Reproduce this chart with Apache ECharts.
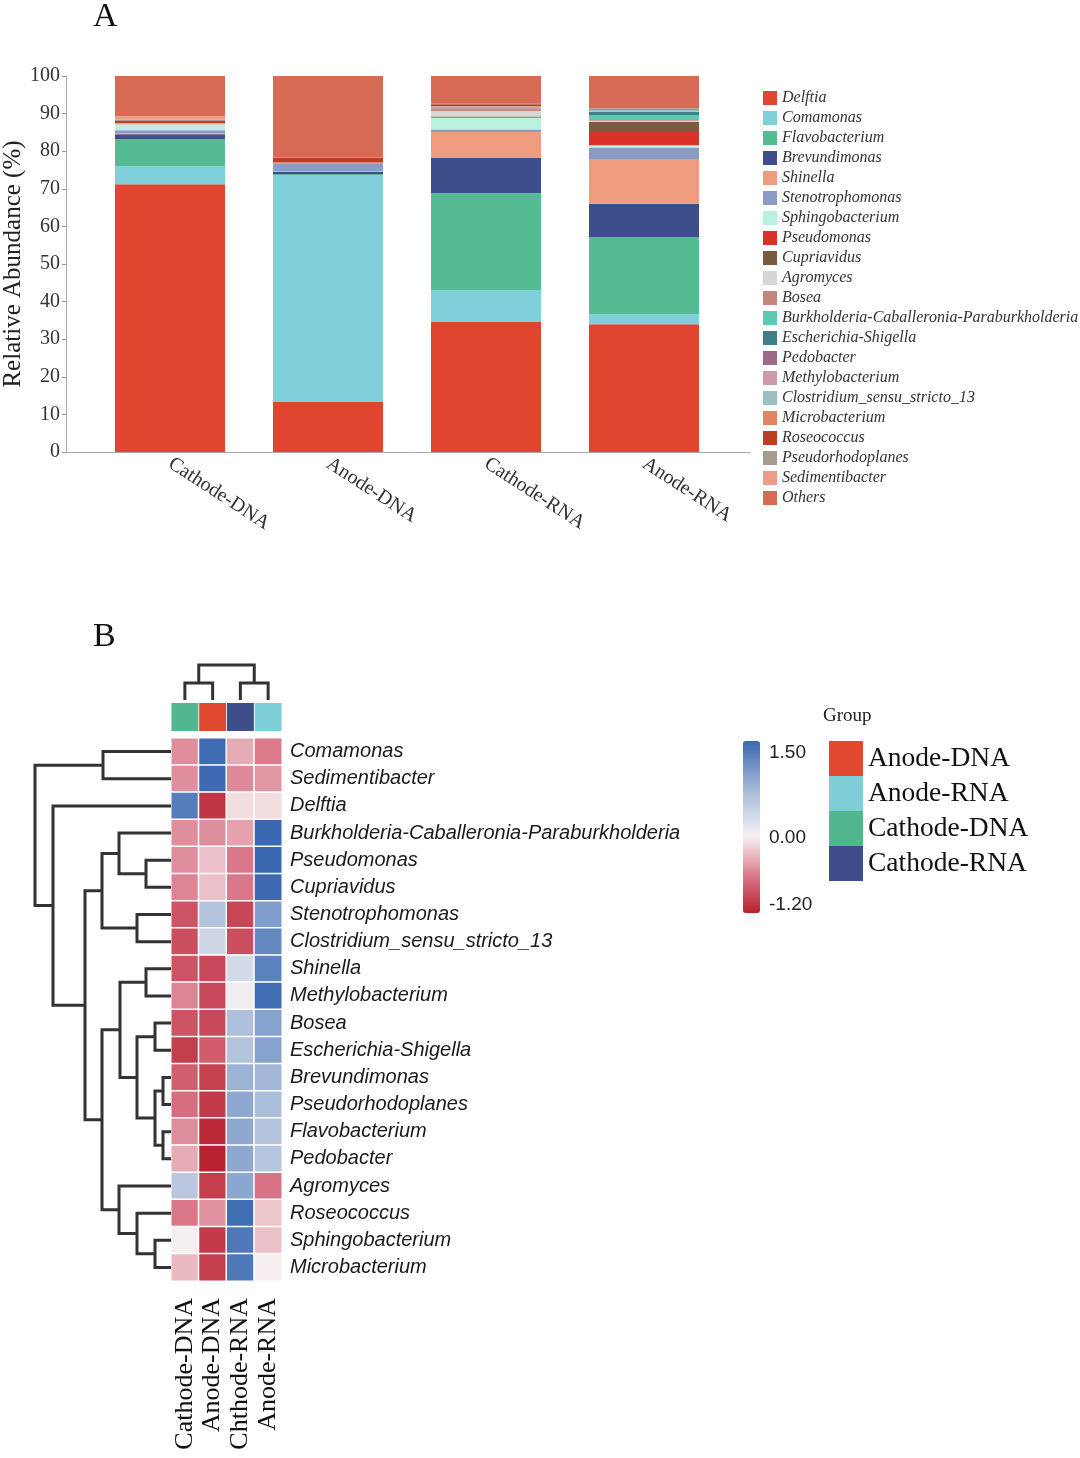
<!DOCTYPE html>
<html><head><meta charset="utf-8">
<script src="https://cdn.jsdelivr.net/npm/echarts@6/dist/echarts.min.js"></script>
<style>html,body{margin:0;padding:0;background:#fff}#c{width:1080px;height:1458px}</style>
</head><body><div id="c"></div>
<script>
// ---------- Panel A data ----------
const samples = ['Cathode-DNA', 'Anode-DNA', 'Cathode-RNA', 'Anode-RNA'];
const species = ['Delftia', 'Comamonas', 'Flavobacterium', 'Brevundimonas', 'Shinella',
  'Stenotrophomonas', 'Sphingobacterium', 'Pseudomonas', 'Cupriavidus', 'Agromyces', 'Bosea',
  'Burkholderia-Caballeronia-Paraburkholderia', 'Escherichia-Shigella', 'Pedobacter',
  'Methylobacterium', 'Clostridium_sensu_stricto_13', 'Microbacterium', 'Roseococcus',
  'Pseudorhodoplanes', 'Sedimentibacter', 'Others'];
const speciesColors = ['#e0462f', '#7fd0da', '#55bb92', '#3d4f8a', '#ee9b7e', '#8c9ac6', '#b9f0df',
  '#d93027', '#7d5a3f', '#d6d6d6', '#c3877f', '#5cc9b3', '#3f7f88', '#9b6a8a', '#cc9aa8', '#9cbfc6',
  '#e08466', '#bb3e25', '#a79b8f', '#ec9c88', '#d76b56'];
const valsCathodeDNA = [71.2, 4.8, 7.2, 1.3, 0.3, 0.8, 1.4, 0, 0, 0.2, 0.1, 0, 0, 0, 0, 0.1, 0.1, 0.5, 0.4, 0.9, 10.7];
const valsAnodeDNA   = [13.3, 60.4, 0.2, 0.6, 0.1, 2.1, 0.1, 0.1, 0, 0.1, 0, 0, 0, 0, 0, 0, 0, 1.3, 0.1, 0, 21.6];
const valsCathodeRNA = [34.6, 8.5, 25.8, 9.3, 6.9, 0.7, 3.1, 0.1, 0.2, 1.5, 0.3, 0.1, 0.2, 0.1, 0.1, 0.3, 0.2, 0.5, 0.3, 0, 7.2];
const valsAnodeRNA   = [34.0, 2.7, 20.5, 8.8, 11.7, 3.3, 0.6, 3.5, 2.7, 0.3, 0.2, 1.3, 0.8, 0.1, 0.1, 0.4, 0.1, 0.1, 0.2, 0, 8.6];

// ---------- Panel B data ----------
const heatRows = ['Comamonas', 'Sedimentibacter', 'Delftia', 'Burkholderia-Caballeronia-Paraburkholderia',
  'Pseudomonas', 'Cupriavidus', 'Stenotrophomonas', 'Clostridium_sensu_stricto_13', 'Shinella',
  'Methylobacterium', 'Bosea', 'Escherichia-Shigella', 'Brevundimonas', 'Pseudorhodoplanes',
  'Flavobacterium', 'Pedobacter', 'Agromyces', 'Roseococcus', 'Sphingobacterium', 'Microbacterium'];
const heatCols = ['Cathode-DNA', 'Anode-DNA', 'Chthode-RNA', 'Anode-RNA'];
const headerGroups = ['Cathode-DNA', 'Anode-DNA', 'Cathode-RNA', 'Anode-RNA'];
const zCathodeDNA = [-0.5, -0.5, 1.3, -0.5, -0.5, -0.55, -0.85, -0.88, -0.85, -0.55, -0.85, -1.0, -0.78, -0.68, -0.5, -0.35, 0.55, -0.62, 0.0, -0.28];
const zAnodeDNA   = [1.47, 1.48, -1.05, -0.5, -0.25, -0.25, 0.6, 0.35, -0.92, -0.92, -0.92, -0.8, -0.98, -1.02, -1.15, -1.18, -1.0, -0.48, -1.02, -1.0];
const zCathodeRNA = [-0.35, -0.52, -0.1, -0.4, -0.62, -0.62, -0.95, -0.88, 0.3, 0.05, 0.65, 0.6, 0.8, 0.9, 0.9, 0.9, 0.92, 1.45, 1.35, 1.35];
const zAnodeRNA   = [-0.6, -0.46, -0.1, 1.5, 1.5, 1.48, 1.0, 1.2, 1.25, 1.45, 0.95, 0.95, 0.75, 0.68, 0.6, 0.58, -0.65, -0.22, -0.25, -0.02];
const groupNames = ['Anode-DNA', 'Anode-RNA', 'Cathode-DNA', 'Cathode-RNA'];
const groupColors = ['#e0482f', '#7fcfd9', '#52b68e', '#3f4d8a'];
// dendrograms: [mergeHeight, left, right]; leaves are row / column indices
const rowTree = [136,
  [68, 0, 1],
  [118, 2,
    [86,
      [69, [52, 3, [25, 4, 5]], [34, 6, 7]],
      [69,
        [51, [25, 8, 9], [34, [16, 10, 11], [16, [8, 12, 13], [8, 14, 15]]]],
        [52, 16, [34, 17, [16, 18, 19]]]]]]];
const colTree = [35, [17, 0, 1], [17, 2, 3]];
const colorMin = -1.2, colorMax = 1.5;
const colorTicks = [-1.2, 0, 1.5];

// ---------- helpers ----------
const SERIF = '"Liberation Serif", "Times New Roman", serif';
const SANS = '"Liberation Sans", Arial, sans-serif';
const stops = [[-1.2, [184, 32, 46]], [-0.6, [219, 122, 140]], [0, [246, 242, 242]], [0.75, [163, 184, 216]], [1.5, [58, 104, 177]]];
function colorAt(v) {
  for (let i = 0; i < stops.length - 1; i++) {
    const [a, ca] = stops[i], [b, cb] = stops[i + 1];
    if (v <= b || i === stops.length - 2) {
      const t = Math.max(0, Math.min(1, (v - a) / (b - a)));
      const c = ca.map((x, k) => Math.round(x + (cb[k] - x) * t));
      return 'rgb(' + c.join(',') + ')';
    }
  }
}
const palette = [];
for (let i = 0; i <= 60; i++) palette.push(colorAt(colorMin + (colorMax - colorMin) * i / 60));

function walk(node, out) {
  if (typeof node === 'number') return { p: node, h: 0 };
  const [h, a, b] = node;
  const L = walk(a, out), R = walk(b, out);
  out.push([L.h, L.p, h, R.p, R.h]);
  return { p: (L.p + R.p) / 2, h: h };
}
const rowLinks = []; walk(rowTree, rowLinks);
const colLinks = []; walk(colTree, colLinks);

const sampleVals = [valsCathodeDNA, valsAnodeDNA, valsCathodeRNA, valsAnodeRNA];
const zCols = [zCathodeDNA, zAnodeDNA, zCathodeRNA, zAnodeRNA];
const heatData = [];
zCols.forEach((col, c) => col.forEach((v, r) => heatData.push([c, r, v])));

const series = [];
species.forEach((sp, i) => {
  series.push({
    name: sp, type: 'bar', stack: 'abund', xAxisIndex: 0, yAxisIndex: 0, barWidth: 110,
    itemStyle: { color: speciesColors[i] },
    data: sampleVals.map(s => s[i])
  });
});
const heatIdx = series.length;
series.push({
  type: 'heatmap', xAxisIndex: 1, yAxisIndex: 1, data: heatData,
  itemStyle: { borderColor: '#fff', borderWidth: 1.5 }
});
const lineStyle = { stroke: '#333', lineWidth: 3, fill: null };
series.push({
  type: 'custom', xAxisIndex: 2, yAxisIndex: 2, data: rowLinks, clip: false,
  renderItem: (p, api) => {
    const hL = api.value(0), yL = api.value(1), h = api.value(2), yR = api.value(3), hR = api.value(4);
    return { type: 'polyline', shape: { points: [api.coord([hL, yL]), api.coord([h, yL]), api.coord([h, yR]), api.coord([hR, yR])] }, style: lineStyle };
  }
});
series.push({
  type: 'custom', xAxisIndex: 3, yAxisIndex: 3, data: colLinks, clip: false,
  renderItem: (p, api) => {
    const hL = api.value(0), xL = api.value(1), h = api.value(2), xR = api.value(3), hR = api.value(4);
    return { type: 'polyline', shape: { points: [api.coord([xL, hL]), api.coord([xL, h]), api.coord([xR, h]), api.coord([xR, hR])] }, style: lineStyle };
  }
});
groupNames.forEach((g, i) => {
  series.push({
    name: g, type: 'bar', stack: 'hdr', xAxisIndex: 4, yAxisIndex: 4, barWidth: '97%',
    itemStyle: { color: groupColors[i] },
    data: headerGroups.map(h => h === g ? 1 : '-')
  });
});
series.push({ type: 'scatter', xAxisIndex: 5, yAxisIndex: 5, data: [] });

const hidden = { show: false };
const G = { outerBoundsMode: 'none', containLabel: false };
const option = {
  animation: false,
  backgroundColor: '#fff',
  title: [
    { text: 'A', left: 93, top: 0, padding: 0, textStyle: { fontFamily: SERIF, fontSize: 34, fontWeight: 'normal', color: '#111' } },
    { text: 'B', left: 93, top: 620, padding: 0, textStyle: { fontFamily: SERIF, fontSize: 34, fontWeight: 'normal', color: '#111' } },
    { text: 'Group', left: 823, top: 707, padding: 0, textStyle: { fontFamily: SERIF, fontSize: 19, fontWeight: 'normal', color: '#222' } }
  ],
  legend: [
    { data: species, orient: 'vertical', left: 763, top: 90, padding: 0, icon: 'rect',
      itemWidth: 14, itemHeight: 14, itemGap: 4, selectedMode: false,
      textStyle: { fontFamily: SERIF, fontStyle: 'italic', fontSize: 16, lineHeight: 14, color: '#333' } },
    { data: groupNames, orient: 'vertical', left: 829, top: 741, padding: 0, icon: 'rect',
      itemWidth: 34, itemHeight: 35, itemGap: 0, selectedMode: false,
      textStyle: { fontFamily: SERIF, fontSize: 27.5, lineHeight: 35, color: '#111' } }
  ],
  grid: [
    Object.assign({ left: 91, top: 76, width: 632, height: 376 }, G),
    Object.assign({ left: 171, top: 738, width: 111, height: 543 }, G),
    Object.assign({ left: 35, top: 738, width: 136, height: 543 }, G),
    Object.assign({ left: 171, top: 665, width: 111, height: 35 }, G),
    Object.assign({ left: 171, top: 703, width: 111, height: 28 }, G),
    Object.assign({ left: 760, top: 753, width: 1, height: 152 }, G)
  ],
  xAxis: [
    { type: 'category', gridIndex: 0, data: samples, axisLine: hidden, axisTick: hidden,
      axisLabel: { rotate: -33, margin: 10, interval: 0, fontFamily: SERIF, fontSize: 20, color: '#333' } },
    { type: 'category', gridIndex: 1, data: heatCols, axisLine: hidden, axisTick: hidden,
      axisLabel: { rotate: 90, margin: 17, interval: 0, fontFamily: SERIF, fontSize: 26, color: '#111' } },
    { type: 'value', gridIndex: 2, min: 0, max: 136, inverse: true, show: false },
    { type: 'value', gridIndex: 3, min: -0.5, max: 3.5, show: false },
    { type: 'category', gridIndex: 4, data: heatCols, show: false },
    { type: 'value', gridIndex: 5, show: false }
  ],
  yAxis: [
    { type: 'value', gridIndex: 0, min: 0, max: 100, interval: 10, offset: 25,
      name: 'Relative Abundance (%)', nameLocation: 'middle', nameGap: 40, nameMoveOverlap: false,
      nameTextStyle: { fontFamily: SERIF, fontSize: 25, color: '#222' },
      axisLine: { show: true, lineStyle: { color: '#aaa' } },
      axisTick: { show: true, length: 4, lineStyle: { color: '#999' } },
      splitLine: hidden,
      axisLabel: { margin: 6, fontFamily: SERIF, fontSize: 20, color: '#333' } },
    { type: 'category', gridIndex: 1, data: heatRows, inverse: true, position: 'right',
      axisLine: hidden, axisTick: hidden,
      axisLabel: { margin: 8, interval: 0, fontFamily: SANS, fontStyle: 'italic', fontSize: 20, color: '#1a1a1a' } },
    { type: 'value', gridIndex: 2, min: -0.5, max: 19.5, inverse: true, show: false },
    { type: 'value', gridIndex: 3, min: 0, max: 35, show: false },
    { type: 'value', gridIndex: 4, min: 0, max: 1, show: false },
    { type: 'value', gridIndex: 5, min: colorMin, max: colorMax, position: 'right',
      axisLine: hidden, axisTick: hidden, splitLine: hidden,
      axisLabel: { customValues: colorTicks, margin: 8, formatter: v => Number(v).toFixed(2),
        fontFamily: SANS, fontSize: 19, color: '#222' } }
  ],
  visualMap: {
    type: 'continuous', min: colorMin, max: colorMax, seriesIndex: heatIdx,
    left: 743, top: 741, itemWidth: 17, itemHeight: 172, padding: 0, calculable: false,
    inRange: { color: palette }
  },
  graphic: [
    { type: 'line', shape: { x1: 66, y1: 452.5, x2: 751, y2: 452.5 }, style: { stroke: '#aaa', lineWidth: 1 } }
  ],
  series: series
};
const chart = echarts.init(document.getElementById('c'), null, { renderer: 'canvas' });
chart.setOption(option);
</script>
</body></html>
